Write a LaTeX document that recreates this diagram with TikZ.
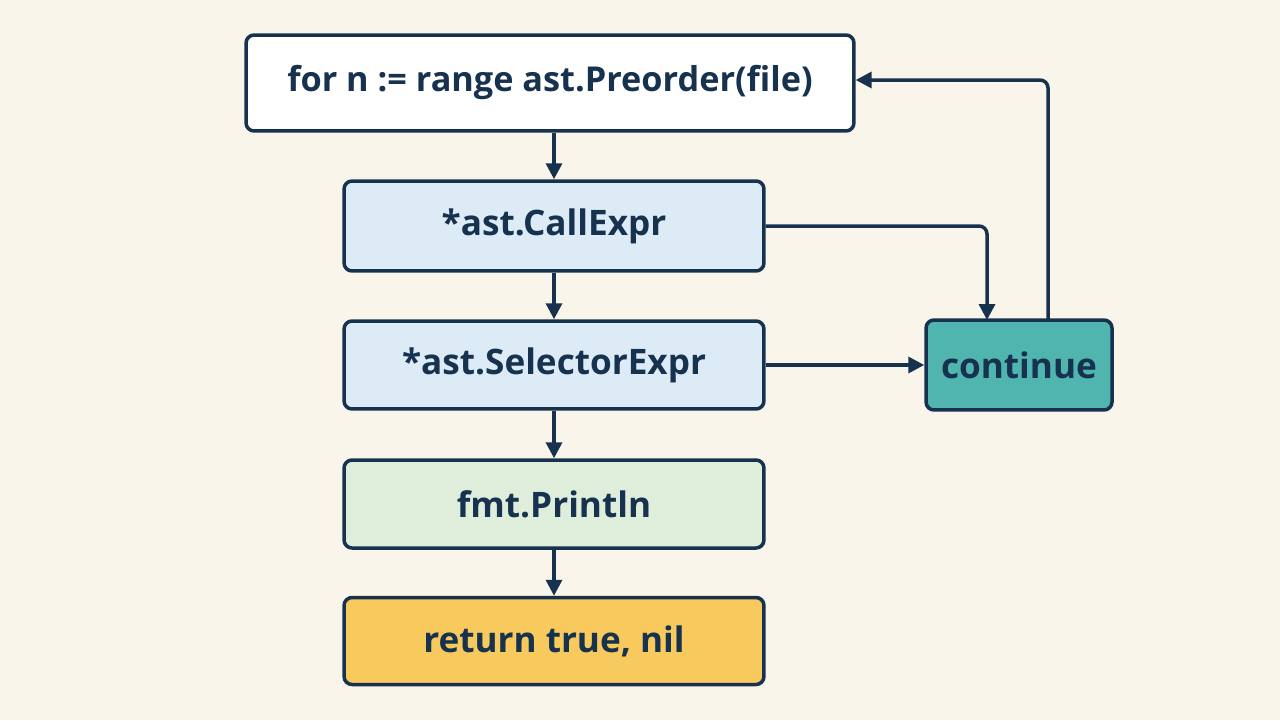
\documentclass[tikz,border=0pt]{standalone}
\usepackage{fontspec}
\setmainfont{Open Sans}
\usetikzlibrary{arrows.meta}
\definecolor{navy}{HTML}{16324F}
\definecolor{paper}{HTML}{FAF5EA}
\definecolor{lblue}{HTML}{DCEBF6}
\definecolor{lgreen}{HTML}{DFEDDB}
\definecolor{lyellow}{HTML}{F8C95C}
\definecolor{teal}{HTML}{50B4AF}
\tikzset{
  box/.style={draw=navy, line width=0.07cm, rounded corners=0.16cm, text=navy,
    font=\bfseries\fontsize{20}{23}\selectfont, inner sep=0pt},
  flow/.style={draw=navy, line width=0.07cm, -{Triangle[length=0.32cm,width=0.32cm]}}
}
\begin{document}
\begin{tikzpicture}[x=0.02cm,y=-0.02cm]
                % background
                \fill [paper] (0,0) rectangle (1280,720);%
                
                % Drawing the loop head
                \node [box, fill=white, minimum width=12.16cm, minimum height=1.92cm,
                  font=\bfseries\fontsize{19.5}{23}\selectfont] (loop) at (550,83) {for n := range ast.Preorder(file)};%
                
                % Drawing the type checks
                \node [box, fill=lblue, minimum width=8.4cm, minimum height=1.8cm] (call) at (554,226) {*ast.CallExpr};%
                \node [box, fill=lblue, minimum width=8.4cm, minimum height=1.76cm] (sel) at (554,365) {*ast.SelectorExpr};%
                \node [box, fill=lgreen, minimum width=8.4cm, minimum height=1.76cm] (print) at (554,504) {fmt.Println};%
                \node [box, fill=lyellow, minimum width=8.4cm, minimum height=1.74cm] (ret) at (554,641) {return true, nil};%
                
                % Drawing the continue box
                \node [box, fill=teal, minimum width=3.72cm, minimum height=1.8cm] (cont) at (1019,365) {continue};%
                
                % Drawing the main flow
                \draw [flow] (loop.south -| call.north) -- (call.north);%
                \draw [flow] (call) -- (sel);%
                \draw [flow] (sel) -- (print);%
                \draw [flow] (print) -- (ret);%
                
                % Drawing the skips
                \draw [flow, rounded corners=0.16cm] (call.east) -- (987,226) -- (987,320);%
                \draw [flow] (sel.east) -- (cont.west);%
                \draw [flow, rounded corners=0.16cm] (1048,320) -- (1048,80) -- (loop.east |- 0,80);%
\end{tikzpicture}
\end{document}
